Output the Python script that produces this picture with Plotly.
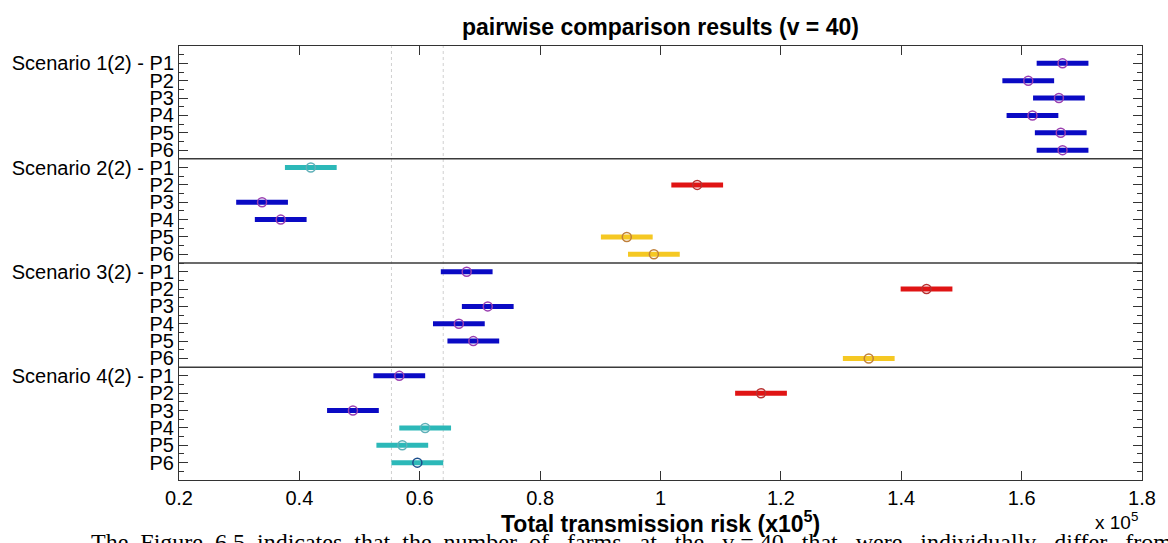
import plotly.graph_objects as go

# ---------------- data ----------------
scenarios = ["Scenario 1(2)", "Scenario 2(2)", "Scenario 3(2)", "Scenario 4(2)"]
pairs = ["P1", "P2", "P3", "P4", "P5", "P6"]

# group means (x 10^5)
s1_means = [1.668, 1.611, 1.662, 1.618, 1.665, 1.668]
s2_means = [0.419, 1.061, 0.338, 0.369, 0.944, 0.989]
s3_means = [0.678, 1.442, 0.713, 0.665, 0.689, 1.346]
s4_means = [0.566, 1.167, 0.489, 0.609, 0.571, 0.596]

# comparison interval half width
half_width = 0.043

# colour group of every bar
s1_groups = ["blue", "blue", "blue", "blue", "blue", "blue"]
s2_groups = ["cyan", "red", "blue", "blue", "yellow", "yellow"]
s3_groups = ["blue", "red", "blue", "blue", "blue", "yellow"]
s4_groups = ["blue", "red", "blue", "cyan", "cyan", "selected"]

x_ticks = [0.2, 0.4, 0.6, 0.8, 1.0, 1.2, 1.4, 1.6, 1.8]
x_tick_text = ["0.2", "0.4", "0.6", "0.8", "1", "1.2", "1.4", "1.6", "1.8"]

caption = ("The  Figure  6.5  indicates  that  the  number  of   farms   at   the   v = 40   that   "
           "were   individually   differ   from   each")

# ---------------- styles ----------------
bar_colors = {"blue": "#0a0ac4", "cyan": "#2cb8b8", "red": "#e01414",
              "yellow": "#f5c823", "selected": "#2cb8b8"}
ring_colors = {"blue": "#9a3fb0", "cyan": "#5fb0b8", "red": "#b83030",
               "yellow": "#c0803a", "selected": "#1c4f8c"}

means = s1_means + s2_means + s3_means + s4_means
groups = s1_groups + s2_groups + s3_groups + s4_groups
labels = []
for s in scenarios:
    for j, p in enumerate(pairs):
        labels.append(f"{s} - {p}" if j == 0 else p)
rows = list(range(1, len(means) + 1))

fig = go.Figure()

for r, m, g in zip(rows, means, groups):
    fig.add_trace(go.Scatter(
        x=[m - half_width, m + half_width], y=[r, r], mode="lines",
        line=dict(color=bar_colors[g], width=5), showlegend=False, hoverinfo="skip"))

fig.add_trace(go.Scatter(
    x=means, y=rows, mode="markers", showlegend=False,
    marker=dict(symbol="circle-open", size=9,
                color=[ring_colors[g] for g in groups],
                line=dict(width=1.5))))

# dotted reference lines at the selected interval bounds
sel = groups.index("selected")
for xv in (means[sel] - half_width, means[sel] + half_width):
    fig.add_shape(type="line", xref="x", yref="paper", x0=xv, x1=xv, y0=0, y1=1,
                  line=dict(color="#d0d0d0", width=1, dash="dot"), layer="below")

# scenario separators
for k in range(1, len(scenarios)):
    yv = k * len(pairs) + 0.5
    fig.add_shape(type="line", xref="paper", yref="y", x0=0, x1=1, y0=yv, y1=yv,
                  line=dict(color="#3a3a3a", width=1.5))

L, R, T, B = 176, 26, 46, 63
W, H = 1168, 543
ph = H - T - B
pw = W - L - R

def py(p):
    return (H - B - p) / ph

def px(p):
    return (p - L) / pw

fig.update_layout(
    width=W, height=H,
    margin=dict(l=L, r=R, t=T, b=B),
    paper_bgcolor="white", plot_bgcolor="white",
    font=dict(family="Liberation Sans, Arial, sans-serif", color="black"),
    title=dict(text="<b>pairwise comparison results (v = 40)</b>",
               x=0.5, xref="paper", xanchor="center",
               y=1 - 27 / H, yanchor="middle",
               font=dict(size=23, color="black")),
    xaxis=dict(range=[0.2, 1.8], tickvals=x_ticks, ticktext=x_tick_text,
               ticks="inside", ticklen=9, tickcolor="#333", showgrid=False,
               zeroline=False, showline=True, linecolor="#333", linewidth=1,
               mirror="ticks", tickfont=dict(size=20, color="black")),
    yaxis=dict(range=[len(means) + 1, 0], tickvals=rows, ticktext=labels,
               ticks="inside", ticklen=9, tickcolor="#333", showgrid=False,
               zeroline=False, showline=True, linecolor="#333", linewidth=1,
               mirror="ticks", tickfont=dict(size=20, color="black"),
               minor=dict(ticks="inside", ticklen=5, tickcolor="#333",
                          tick0=0.5, dtick=1, showgrid=False)),
    annotations=[
        dict(text="<b>Total transmission risk (x10<sup>5</sup>)</b>",
             xref="paper", yref="paper", x=px(659), y=py(522),
             xanchor="center", yanchor="middle", showarrow=False,
             font=dict(size=23, color="black")),
        dict(text="x 10<sup>5</sup>", xref="paper", yref="paper",
             x=px(1093), y=py(521), xanchor="left", yanchor="middle",
             showarrow=False, font=dict(size=19, color="black")),
        dict(text=caption, xref="paper", yref="paper", x=px(86), y=py(527),
             xanchor="left", yanchor="top", showarrow=False, align="left",
             font=dict(family="Liberation Serif, Times New Roman, serif",
                       size=24, color="black")),
    ],
)

fig.write_html("out.html")
